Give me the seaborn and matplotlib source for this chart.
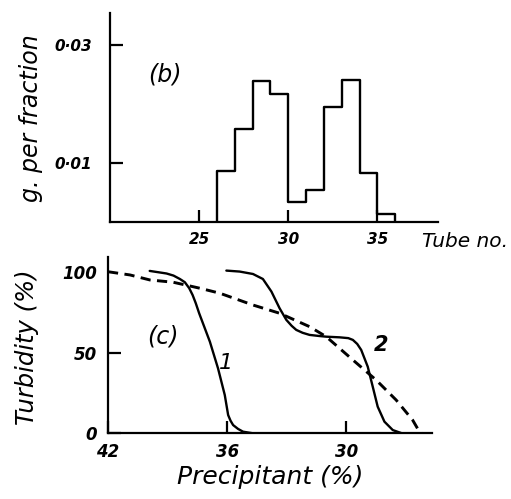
import numpy as np
import pandas as pd
import matplotlib.pyplot as plt
import seaborn as sns

# (b) g. per fraction, one step per tube
tube_edges = [26, 27, 28, 29, 30, 31, 32, 33, 34, 35, 36]
g_per_fraction = [0.0087, 0.0158, 0.0240, 0.0217, 0.0034, 0.0055,
                  0.0195, 0.0241, 0.0084, 0.0014]
tube_ticks = [25, 30, 35]
g_ticks = [0.01, 0.03]
g_tick_labels = ['0·01', '0·03']

# (c) turbidity vs precipitant
curve1_precip = [39.9, 39.05, 38.70, 38.38, 38.13, 37.91, 37.74, 37.58,
                 37.41, 36.87, 36.46, 36.12, 35.95, 35.83, 35.70, 35.45,
                 35.20, 34.70]
curve1_turb = [100.5, 98.9, 97.6, 95.5, 93.5, 89.8, 85.6, 80.5,
               74.3, 56.7, 40.2, 23.7, 11.3, 7.8, 5.1, 2.7,
               1.0, 0.0]

curve2_precip = [36.04, 35.37, 34.70, 34.20, 33.77, 33.36, 33.02, 32.75,
                 32.52, 32.20, 31.85, 31.35, 31.01, 30.34, 29.90, 29.67,
                 29.45, 29.25, 28.92, 28.67, 28.42, 28.08, 27.66, 27.20]
curve2_turb = [100.7, 100.1, 98.6, 95.5, 87.7, 77.4, 70.2, 66.5,
               64.0, 62.2, 60.9, 60.2, 59.8, 59.4, 58.9, 57.8,
               55.3, 51.6, 41.2, 28.9, 16.5, 7.2, 2.0, 0.0]

dashed_precip = [42.0, 40.89, 39.89, 38.72, 37.38, 36.37, 34.70, 33.36,
                 31.85, 31.01, 29.67, 28.50, 27.49, 26.66, 26.32, 26.20]
dashed_turb = [100.0, 98.0, 94.9, 93.5, 89.8, 86.7, 79.4, 74.3,
               66.0, 59.8, 45.4, 33.0, 20.6, 8.2, 1.0, 0.0]

precip_ticks = [42, 36, 30]
turb_ticks = [0, 50, 100]

sns.set_style('ticks')
plt.rcParams['font.family'] = ['DejaVu Sans']
plt.rcParams['font.style'] = 'italic'
plt.rcParams['axes.linewidth'] = 1.6
for key in ['text.color', 'axes.edgecolor', 'axes.labelcolor',
            'xtick.color', 'ytick.color']:
    plt.rcParams[key] = 'black'

fig = plt.figure(figsize=(5.11, 4.99), dpi=100)
W, H = 511, 499
ax_b = fig.add_axes([110 / W, 1 - 222 / H, 328 / W, 209 / H])
ax_c = fig.add_axes([108 / W, 1 - 433.3 / H, 323.7 / W, 176.6 / H])

# ---- panel (b)
step_x = [tube_edges[0]] + tube_edges
step_y = [0] + g_per_fraction + [0]
sns.lineplot(x=step_x, y=step_y, drawstyle='steps-post', estimator=None,
             sort=False, color='black', lw=1.7, ax=ax_b)
ax_b.set_xlim(20, 38.4)
ax_b.set_ylim(0, 0.0355)
ax_b.set_xticks(tube_ticks)
ax_b.set_yticks(g_ticks)
ax_b.set_yticklabels(g_tick_labels)
ax_b.tick_params(axis='both', direction='in', length=9, width=1.6,
                 labelsize=11)
ax_b.tick_params(axis='x', pad=7)
ax_b.tick_params(axis='y', pad=13)
for lab in ax_b.get_xticklabels() + ax_b.get_yticklabels():
    lab.set_fontweight('bold')
sns.despine(ax=ax_b)
ax_b.text(23.1, 0.0251, '(b)', fontsize=17, ha='center', va='center')

# ---- panel (c)
sns.lineplot(x=curve1_precip, y=curve1_turb, estimator=None, sort=False,
             color='black', lw=1.7, ax=ax_c)
sns.lineplot(x=curve2_precip, y=curve2_turb, estimator=None, sort=False,
             color='black', lw=1.7, ax=ax_c)
sns.lineplot(x=dashed_precip, y=dashed_turb, estimator=None, sort=False,
             color='black', lw=2.1, ls=(0, (3.5, 2.2)), ax=ax_c)
ax_c.set_xlim(42, 25.7)
ax_c.set_ylim(0, 109.3)
ax_c.set_xticks(precip_ticks)
ax_c.set_yticks(turb_ticks)
ax_c.tick_params(axis='both', direction='in', length=9, width=1.6,
                 labelsize=12)
ax_c.tick_params(axis='x', pad=7)
ax_c.tick_params(axis='y', pad=8)
ax_c.yaxis.get_major_ticks()[2].tick1line.set_visible(False)
for lab in ax_c.get_xticklabels() + ax_c.get_yticklabels():
    lab.set_fontweight('bold')
sns.despine(ax=ax_c)
ax_c.text(39.22, 59.8, '(c)', fontsize=17, ha='center', va='center')
ax_c.text(36.07, 43.3, '1', fontsize=16, ha='center', va='center')
ax_c.text(28.25, 54.7, '2', fontsize=15, fontweight='bold',
          ha='center', va='center')

# ---- axis titles
fig.text(31 / W, 1 - 118 / H, 'g. per fraction', rotation=90,
         fontsize=17, ha='center', va='center')
fig.text(465 / W, 1 - 241.7 / H, 'Tube no.', fontsize=14.5,
         ha='center', va='center')
fig.text(27 / W, 1 - 346.7 / H, 'Turbidity (%)', rotation=90,
         fontsize=17.5, ha='center', va='center')
fig.text(270 / W, 1 - 476.7 / H, 'Precipitant (%)', fontsize=18,
         ha='center', va='center')

ax_b.set_xlabel('')
ax_b.set_ylabel('')
ax_c.set_xlabel('')
ax_c.set_ylabel('')

fig.savefig('out.png', dpi=100)
